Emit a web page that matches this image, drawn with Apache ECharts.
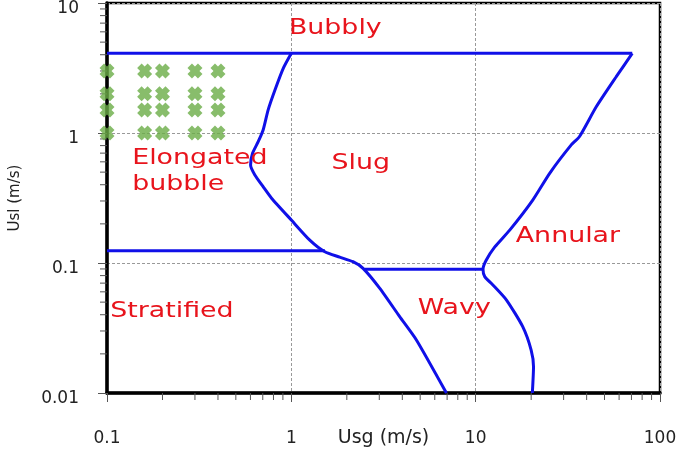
<!DOCTYPE html>
<html>
<head>
<meta charset="utf-8">
<script src="https://cdn.jsdelivr.net/npm/echarts@6/dist/echarts.min.js"></script>
<style>
  html, body {margin: 0; padding: 0; background: #fff;}
  #chart {width: 685px; height: 451px;}
</style>
</head>
<body>
<div id="chart"></div>
<script>
// axis range
const usgRange = [0.1, 100];
const uslRange = [0.01, 10];

// minor (log) tick positions
const usgMinorTicks = [0.2, 0.3, 0.4, 0.5, 0.6, 0.7, 0.8, 0.9, 2, 3, 4, 5, 6, 7, 8, 9, 20, 30, 40, 50, 60, 70, 80, 90];
const uslMinorTicks = [0.02, 0.03, 0.04, 0.05, 0.06, 0.07, 0.08, 0.09, 0.2, 0.3, 0.4, 0.5, 0.6, 0.7, 0.8, 0.9, 2, 3, 4, 5, 6, 7, 8, 9];

// flow regime boundaries [Usg, Usl]
const bubblyBoundary = [[0.1, 4.1], [70.7, 4.1]];
const stratifiedBoundary = [[0.1, 0.124], [1.52, 0.124]];
const wavyBoundary = [[2.5, 0.0895], [10.96, 0.0895]];
const slugBoundary = [
  [1.0, 4.1], [0.904, 3.14], [0.815, 2.14], [0.748, 1.5], [0.703, 1.055], [0.661, 0.857],
  [0.616, 0.698], [0.601, 0.567], [0.634, 0.475], [0.703, 0.386], [0.781, 0.315], [1.0, 0.214],
  [1.259, 0.15], [1.52, 0.122], [1.83, 0.111], [2.16, 0.1023], [2.45, 0.091], [3.02, 0.0638],
  [3.87, 0.0387], [4.77, 0.0256], [6.94, 0.01]
];
const annularBoundary = [
  [70.7, 4.1], [57.9, 2.71], [45.1, 1.59], [36.6, 0.94], [33.0, 0.81], [25.2, 0.49],
  [20.4, 0.305], [15.3, 0.179], [12.7, 0.133], [11.4, 0.105], [10.96, 0.0895], [11.2, 0.0785],
  [12.4, 0.0678], [14.7, 0.0519], [18.0, 0.0324], [20.0, 0.0214], [20.6, 0.0159], [20.3, 0.01]
];

// test points
const testUsg = [0.1, 0.16, 0.2, 0.3, 0.4];
const testUsl = [1, 1.5, 2, 3];

// regime names
const regimeNames = ['Bubbly', 'Elongated', 'bubble', 'Slug', 'Annular', 'Stratified', 'Wavy'];
const regimeUsg = [0.97, 0.137, 0.137, 1.65, 16.5, 0.104, 4.85];
const regimeUsl = [6.4, 0.64, 0.40, 0.58, 0.16, 0.0425, 0.045];

const blue = '#1010e8';
const red = '#e8141c';
const tickColor = '#555';

const testPoints = [];
testUsg.forEach(x => testUsl.forEach(y => testPoints.push([x, y])));

const fmt = v => String(parseFloat(Number(v).toPrecision(3)));

const boundary = (data) => ({
  type: 'line',
  data: data,
  symbol: 'none',
  smooth: 0.2,
  lineStyle: {color: blue, width: 3},
  z: 4,
  silent: true
});

const chart = echarts.init(document.getElementById('chart'));
chart.setOption({
  animation: false,
  backgroundColor: '#fff',
  grid: {
    left: 107, right: 25, top: 3, bottom: 58,
    outerBoundsMode: 'none',
    containLabel: false,
    show: true, borderColor: '#000', borderWidth: 2.5
  },
  xAxis: {
    type: 'log',
    logBase: 10,
    min: usgRange[0],
    max: usgRange[1],
    name: 'Usg (m/s)',
    nameLocation: 'middle',
    nameGap: 36,
    nameMoveOverlap: false,
    nameTextStyle: {fontFamily: 'DejaVu Sans', fontSize: 19, color: '#222'},
    axisLine: {lineStyle: {color: '#000', width: 3.5}},
    axisTick: {show: true, length: 9, lineStyle: {color: tickColor}},
    axisLabel: {
      margin: 37, fontFamily: 'DejaVu Sans', fontSize: 17, color: '#222',
      formatter: fmt
    },
    splitLine: {show: true, lineStyle: {color: '#999', type: [3, 2], width: 1}}
  },
  yAxis: {
    type: 'log',
    logBase: 10,
    min: uslRange[0],
    max: uslRange[1],
    name: 'Usl (m/s)',
    nameLocation: 'middle',
    nameRotate: 90,
    nameGap: 84,
    nameMoveOverlap: false,
    nameTextStyle: {fontFamily: 'DejaVu Sans', fontSize: 15, color: '#222'},
    axisLine: {lineStyle: {color: '#000', width: 3.5}},
    axisTick: {show: true, length: 9, lineStyle: {color: tickColor}},
    axisLabel: {
      margin: 28, fontFamily: 'DejaVu Sans', fontSize: 17, color: '#222',
      verticalAlign: 'top', lineHeight: 12,
      formatter: fmt
    },
    splitLine: {show: true, lineStyle: {color: '#999', type: [3, 2], width: 1}}
  },
  series: [
    // minor ticks on the bottom axis
    {
      type: 'custom',
      silent: true,
      data: usgMinorTicks.map(v => [v, uslRange[0]]),
      renderItem(params, api) {
        const p = api.coord([api.value(0), api.value(1)]);
        return {type: 'line', shape: {x1: p[0], y1: p[1], x2: p[0], y2: p[1] + 7},
          style: {stroke: tickColor, lineWidth: 1}};
      },
      z: 1
    },
    // minor ticks on the left axis
    {
      type: 'custom',
      silent: true,
      data: uslMinorTicks.map(v => [usgRange[0], v]),
      renderItem(params, api) {
        const p = api.coord([api.value(0), api.value(1)]);
        return {type: 'line', shape: {x1: p[0], y1: p[1], x2: p[0] - 7, y2: p[1]},
          style: {stroke: tickColor, lineWidth: 1}};
      },
      z: 1
    },
    boundary(bubblyBoundary),
    boundary(stratifiedBoundary),
    boundary(wavyBoundary),
    boundary(slugBoundary),
    boundary(annularBoundary),
    {
      type: 'scatter',
      data: testPoints,
      symbol: 'path://M0,3L3,0L5,2L7,0L10,3L8,5L10,7L7,10L5,8L3,10L0,7L2,5Z',
      symbolSize: 15,
      itemStyle: {color: '#6aac46'},
      clip: false,
      z: 6,
      silent: true
    },
    // regime labels
    {
      type: 'custom',
      silent: true,
      data: regimeNames.map((n, i) => [regimeUsg[i], regimeUsl[i]]),
      renderItem(params, api) {
        const p = api.coord([api.value(0), api.value(1)]);
        return {
          type: 'text',
          x: p[0], y: p[1],
          scaleX: 1.22,
          style: {
            text: regimeNames[params.dataIndex],
            fill: red,
            fontFamily: 'DejaVu Sans',
            fontSize: 22,
            align: 'left',
            verticalAlign: 'middle'
          }
        };
      },
      z: 7
    }
  ]
});
</script>
</body>
</html>
